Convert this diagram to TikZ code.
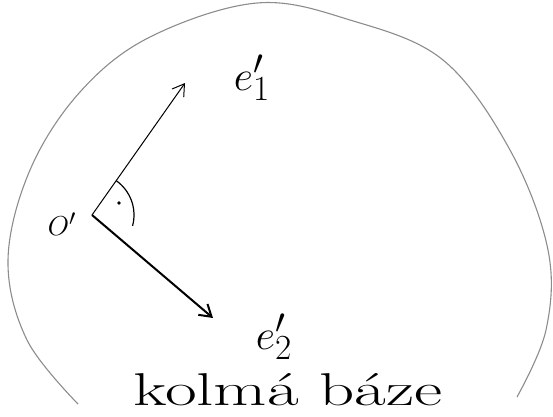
\documentclass[tikz,border=0pt]{standalone}
\usepackage{tikz}
\usetikzlibrary{arrows.meta}
\tikzset{
  rim/.style  ={draw=black!45, line width=1.1pt},
  vecA/.style ={-{Straight Barb[length=4mm,width=5mm]}, line width=1pt},
  vecB/.style ={-{Straight Barb[length=4mm,width=5mm]}, line width=2pt},
  lbl/.style  ={inner sep=0pt, font=\Huge, scale=1.7},
}

\begin{document}
\begin{tikzpicture}[x=1pt, y=-1pt]
  \useasboundingbox (0,0) rectangle (553,416);
  % --- outline of the region ---
  \draw[rim] plot[smooth, tension=0.6] coordinates {(78,404) (27,340) (8,260) (30,170)
    (80,92) (150,37) (257,3) (350,20) (443,60) (510,150) (548,250) (546,330) (517,397)};
  % --- origin and basis vectors ---
  \coordinate (o) at (92,215);
  \coordinate (t1) at (185,83);
  \coordinate (t2) at (213,318);
  \draw[vecA] (o) -- (t1);
  \draw[vecB] (o) -- (t2);
  % right angle mark
  \draw[line width=1.2pt] (o) ++(-55:42) arc[start angle=-55, end angle=15, radius=42];
  \fill (119,203) circle[radius=1.8];
  % --- labels ---
  \node[inner sep=0pt, font=\Huge, scale=1.1] (lo) at (62,224) {$O'$};
  \node[lbl] (l1) at (252,78) {$e_1'$};
  \node[lbl] (l2) at (274,337) {$e_2'$};
  \node[inner sep=0pt, font=\fontsize{46}{46}\selectfont, xscale=1.5] (cap) at (288,390) {kolmá báze};
\end{tikzpicture}
\end{document}
